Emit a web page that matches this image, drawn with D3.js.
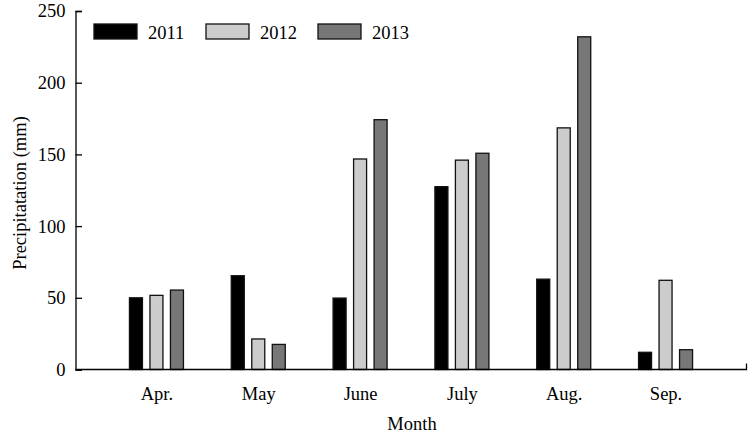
<!DOCTYPE html>
<html><head><meta charset="utf-8">
<script src="https://cdn.jsdelivr.net/npm/d3@7"></script>
<style>body{margin:0;background:#fff}</style>
</head><body>
<svg id="c" width="751" height="434"></svg>
<script>
const months = ["Apr.","May","June","July","Aug.","Sep."];
const years = ["2011","2012","2013"];
const v2011 = [50, 65.4, 49.8, 127.5, 63, 12];
const v2012 = [51.7, 21.3, 146.8, 146, 168.5, 62.2];
const v2013 = [55.4, 17.5, 174.2, 150.8, 232, 13.8];
const yTicks = [0,50,100,150,200,250];
const colors = ["#000000","#cccccc","#777777"];
const series = [v2011, v2012, v2013];

const svg = d3.select("#c");
const font = "'Liberation Serif','Times New Roman',serif";
const fs = 18.5;
const L = 75.5, R = 746.5, T = 11, B = 369.5;
const x = d3.scalePoint().domain(months).range([L, R]).padding(0.795);
const y = d3.scaleLinear().domain([0,250]).range([B, T]);
const off = d3.scalePoint().domain(years).range([-20.5, 20.5]);
const bw = 13;

// bars
years.forEach((yr, i) => {
  svg.append("g").selectAll("rect").data(series[i]).join("rect")
    .attr("x", (d, j) => x(months[j]) + off(yr) - bw/2)
    .attr("y", d => y(d))
    .attr("width", bw)
    .attr("height", d => B - y(d))
    .attr("fill", colors[i])
    .attr("stroke", "#111")
    .attr("stroke-width", 1.3);
});

// y axis
const ya = svg.append("g").attr("transform", `translate(${L},0)`)
  .call(d3.axisLeft(y).tickValues(yTicks).tickSize(-6.5).tickPadding(10));
ya.select(".domain").attr("stroke","#000").attr("stroke-width",1.3);
ya.selectAll(".tick line").attr("stroke","#000").attr("stroke-width",1.3);
ya.selectAll("text").attr("font-family", font).attr("font-size", fs).attr("fill","#000");

// x axis
const xa = svg.append("g").attr("transform", `translate(0,${B})`)
  .call(d3.axisBottom(x).tickSize(0).tickPadding(17));
xa.select(".domain").attr("stroke","#000").attr("stroke-width",1.3).attr("d", `M${L},0H${R}V-6`);
xa.selectAll("text").attr("font-family", font).attr("font-size", fs).attr("fill","#000");

// axis titles
svg.append("text").attr("x", 412).attr("y", 430).attr("text-anchor","middle")
  .attr("font-family", font).attr("font-size", fs).text("Month");
svg.append("text").attr("transform","translate(26,193) rotate(-90)").attr("text-anchor","middle")
  .attr("font-family", font).attr("font-size", fs).text("Precipitatation (mm)");

// legend
const lg = svg.append("g");
years.forEach((yr, i) => {
  const lx = 94 + i * 112;
  lg.append("rect").attr("x", lx).attr("y", 24).attr("width", 43).attr("height", 15)
    .attr("fill", colors[i]).attr("stroke","#111").attr("stroke-width",1.3);
  lg.append("text").attr("x", lx + 54).attr("y", 38.5).attr("font-family", font)
    .attr("font-size", fs).text(yr);
});
</script>
</body></html>
